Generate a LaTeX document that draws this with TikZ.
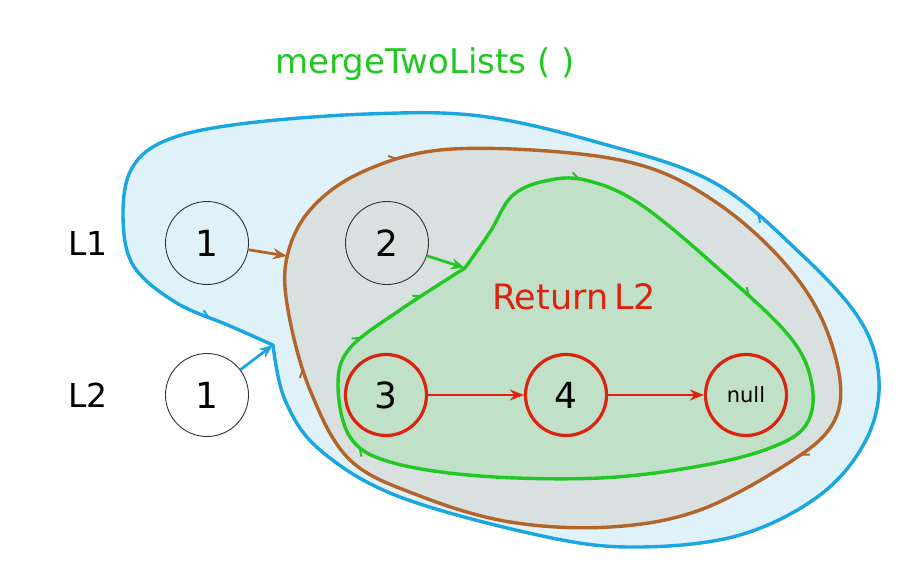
\documentclass[tikz,border=0pt]{standalone}
\usepackage{fontspec}
\setmainfont{DejaVu Sans}
\usetikzlibrary{arrows.meta,decorations.markings}
\definecolor{bluel}{RGB}{26,166,224}
\definecolor{bluef}{RGB}{223,242,250}
\definecolor{brownl}{RGB}{180,100,40}
\definecolor{grayf}{RGB}{216,224,224}
\definecolor{greenl}{RGB}{34,200,34}
\definecolor{greenf}{RGB}{193,224,200}
\definecolor{redl}{RGB}{220,35,15}
\tikzset{
  blob/.style={line width=3.4pt, line join=round},
  barb/.style={postaction={decorate, decoration={markings,
     mark=at position #1 with {\arrow[line width=2pt]{Straight Barb[harpoon,length=7pt,width=10pt]}}}}},
  plainnode/.style={circle, draw=black!80, line width=0.9pt, minimum size=83pt, inner sep=0pt, font=\fontsize{36}{36}\selectfont},
  rednode/.style={circle, draw=redl, line width=3.2pt, minimum size=81pt, inner sep=0pt, font=\fontsize{36}{36}\selectfont},
  lbl/.style={font=\fontsize{33}{33}\selectfont},
  arr/.style={line width=2.8pt, -{Stealth[length=14pt,width=11pt]}},
}
\begin{document}
\begin{tikzpicture}[x=1pt,y=-1pt]
\useasboundingbox (0,0) rectangle (923,570);
% blue blob
\filldraw[blob, draw=bluel, fill=bluef, barb=0.52, barb=0.965] plot[smooth, tension=0.6] coordinates {
 (273,345) (285,400) (320,450) (400,497) (547,537) (640,547) (740,535) (820,495) (866,440) (879,380) (860,320) (800,253) (713,182) (600,143) (480,116) (367,114) (240,124) (167,140) (132,168) (123,215) (133,265) (175,302) (230,326) (273,345)} -- cycle;
\coordinate (bnotch) at (273,345);
% brown blob
\filldraw[blob, draw=brownl, fill=grayf, barb=0.07, barb=0.5, barb=0.89] plot[smooth cycle, tension=0.6] coordinates {
 (287,257) (310,210) (360,173) (440,150) (560,152) (650,168) (720,205) (780,258) (820,315) (840,380) (832,425) (790,462) (700,510) (610,527) (510,522) (420,496) (350,460) (310,390) (288,310)};
\coordinate (brn) at (287,256);
% green blob
\filldraw[blob, draw=greenl, fill=greenf, barb=0.13, barb=0.3, barb=0.8, barb=0.9, barb=0.96] plot[smooth, tension=0.6] coordinates {
 (465,268) (490,232) (512,196) (545,181) (585,180) (640,204) (720,270) (790,337) (812,385) (806,425) (770,448) (700,466) (600,478) (480,476) (390,462) (350,437) (338,385) (350,348) (400,310) (465,268)} -- cycle;
\coordinate (grn) at (465,268);
% title and labels
\node[lbl, text=greenl, font=\fontsize{34}{34}\selectfont] (title) at (425,64) {mergeTwoLists ( )};
\node[lbl] (L1) at (88,243) {L1};
\node[lbl] (L2) at (88,395) {L2};
\node[text=redl, font=\fontsize{35}{35}\selectfont] (ret) at (574,297) {Return\,L2};
% nodes
\node[plainnode] (a1) at (207,243) {1};
\node[plainnode] (a2) at (387,243) {2};
\node[plainnode] (b1) at (207,395) {1};
\node[rednode] (c3) at (386,395) {3};
\node[rednode] (c4) at (566,395) {4};
\node[rednode, font=\fontsize{21}{21}\selectfont] (cn) at (746,395) {null};
% arrows
\draw[arr, draw=brownl, fill=brownl] (a1) -- (brn);
\draw[arr, draw=greenl, fill=greenl] (a2) -- (grn);
\draw[arr, draw=bluel, fill=bluel] (b1) -- (bnotch);
\draw[arr, draw=redl, fill=redl, line width=2.4pt] (c3) -- (c4);
\draw[arr, draw=redl, fill=redl, line width=2.4pt] (c4) -- (cn);
\end{tikzpicture}
\end{document}
